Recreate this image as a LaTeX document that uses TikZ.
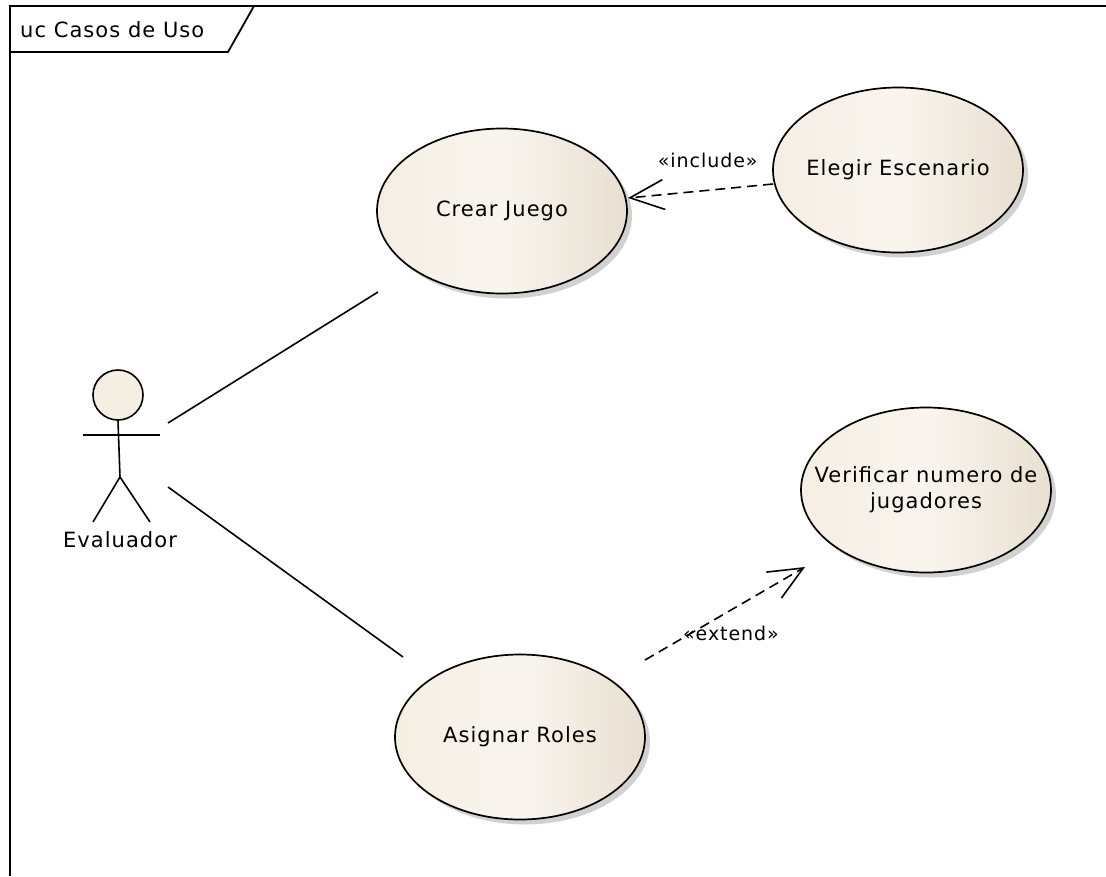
\documentclass[tikz,border=0pt]{standalone}
\usepackage{fontspec}
\setmainfont{DejaVu Sans}[LetterSpace=5]
\usetikzlibrary{arrows.meta,shadows,shapes.geometric}
\definecolor{ucfill}{HTML}{F5EEE3}
\definecolor{ucedge}{HTML}{E8DFD0}
% centred text of zero width, so the ellipse keeps its own size
\newcommand\uctext[1]{\makebox[0pt]{\begin{tabular}{@{}c@{}}#1\end{tabular}}}
\tikzset{
  usecase/.style={ellipse, draw=black, line width=1.7pt, minimum width=250pt, minimum height=165pt,
    left color=ucfill, right color=ucedge, middle color=ucfill!60!white, inner sep=0pt,
    font=\fontsize{21}{26}\selectfont,
    drop shadow={shadow xshift=5pt, shadow yshift=-5pt, fill=black!30, opacity=0.6}},
  assoc/.style={line width=1.6pt},
  depend/.style={line width=1.6pt, dash pattern=on 10pt off 6pt,
    -{Straight Barb[length=34pt, width=30pt, line width=1.6pt]}},
  stereo/.style={font=\fontsize{19}{23}\selectfont, inner sep=1pt},
  frame/.style={line width=1.8pt},
}
\begin{document}
\begin{tikzpicture}[x=1pt,y=-1pt]
\useasboundingbox (0,0) rectangle (1106,876);
% diagram frame with its name tab
\draw[frame] (10,876) -- (10,6) -- (1106,6);
\draw[frame] (10,52) -- (228,52) -- (254,6);
\node[anchor=west, font=\fontsize{21}{25}\selectfont, inner sep=0pt] (title) at (20,30) {uc Casos de Uso};

% actor
\node[circle, draw=black, line width=1.6pt, fill=ucfill, minimum size=50pt, inner sep=0pt] (head) at (118,395) {};
\coordinate (hip) at (120,477);
\coordinate (armL) at (83,435);
\coordinate (armR) at (160,435);
\coordinate (footL) at (93,522);
\coordinate (footR) at (150,522);
\draw[assoc] (head.south) -- (hip);
\draw[assoc] (armL) -- (armR);
\draw[assoc] (footL) -- (hip) -- (footR);
\node[font=\fontsize{21}{25}\selectfont, inner sep=0pt] (actor) at (120,540) {Evaluador};

% use cases
\node[usecase] (crear) at (502,211) {\uctext{Crear Juego}};
\node[usecase] (elegir) at (898,170) {\uctext{Elegir Escenario}};
\node[usecase] (verif) at (926,490) {\uctext{Verificar numero de\\jugadores}};
\node[usecase] (asignar) at (520,737) {\uctext{Asignar Roles}};

% associations
\coordinate (a1) at (168,423);
\coordinate (a2) at (168,487);
\draw[assoc] (a1) -- ([shift={(-124pt,-81pt)}]crear.center);
\draw[assoc] (a2) -- ([shift={(-117pt,80pt)}]asignar.center);

% include / extend
\draw[depend] ([shift={(-125pt,-14pt)}]elegir.center) -- ([shift={(126pt,13pt)}]crear.center)
  node[stereo, pos=0.45, above=21pt] {«include»};
\draw[depend] ([shift={(125pt,77pt)}]asignar.center) -- ([shift={(-121pt,-77pt)}]verif.center)
  node[stereo, pos=0.5, below=11pt, xshift=6pt] {«extend»};
\end{tikzpicture}
\end{document}
